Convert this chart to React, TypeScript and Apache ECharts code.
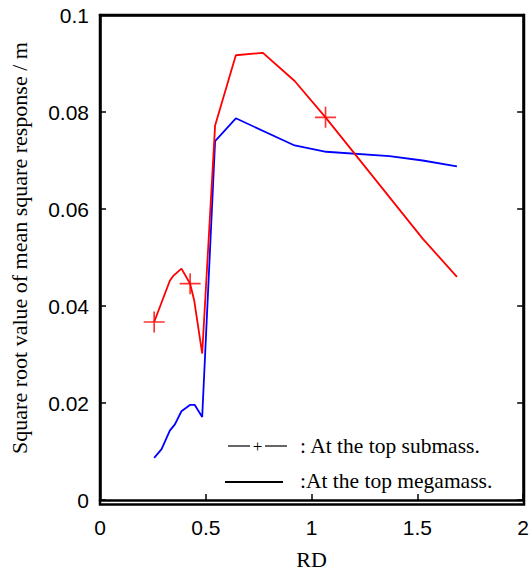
import React, { useEffect, useRef } from "react";
import * as echarts from "echarts";

const rdSub = [0.256, 0.33, 0.346, 0.385, 0.426, 0.445, 0.483, 0.544, 0.642, 0.77, 0.92, 1.066, 1.525, 1.687];
const valSub = [0.0367, 0.0452, 0.0462, 0.0477, 0.0446, 0.0412, 0.0302, 0.0772, 0.0917, 0.0922, 0.0864, 0.0789, 0.0539, 0.046];
const markerIdx = [0, 4, 11];

const rdMega = [0.256, 0.291, 0.33, 0.354, 0.385, 0.425, 0.448, 0.483, 0.544, 0.642, 0.92, 1.069, 1.368, 1.525, 1.687];
const valMega = [0.0087, 0.0105, 0.0143, 0.0156, 0.0183, 0.0196, 0.0196, 0.0171, 0.074, 0.0787, 0.0731, 0.0718, 0.0709, 0.07, 0.0688];

const xTicks = [0, 0.5, 1, 1.5, 2];
const yTicks = [0, 0.02, 0.04, 0.06, 0.08, 0.1];

const PLUS = "path://M0,9.2H9.2V0H10.8V9.2H20V10.8H10.8V20H9.2V10.8H0Z";
const SERIF = "'Liberation Serif', 'DejaVu Serif', serif";
const SANS = "'Liberation Sans', Arial, sans-serif";

const G_LEFT = 100;
const G_TOP = 15;
const G_RIGHT = 8;
const G_BOTTOM = 70.5;

export default function App() {
  const ref = useRef<HTMLDivElement>(null);
  useEffect(() => {
    const chart = echarts.init(ref.current!, null, { renderer: "svg" });
    const mkLine = () => ({ show: true, onZero: false, lineStyle: { color: "#000", width: 2.5 } });
    const mkTick = () => ({ show: true, inside: true, length: 6, lineStyle: { color: "#000", width: 1.5 } });
    chart.setOption({
      animation: false,
      grid: { left: G_LEFT, top: G_TOP, right: G_RIGHT, bottom: G_BOTTOM, containLabel: false },
      xAxis: [
        {
          type: "value", min: 0, max: 2, interval: 0.5,
          axisLine: mkLine(), axisTick: mkTick(), splitLine: { show: false },
          axisLabel: { color: "#000", fontFamily: SANS, fontSize: 21, margin: 17, formatter: (v: number) => (xTicks.includes(v) ? String(v) : "") },
          name: "RD", nameLocation: "middle", nameGap: 48,
          nameTextStyle: { color: "#000", fontFamily: SERIF, fontSize: 22 },
        },
        {
          type: "value", min: 0, max: 2, interval: 0.5, position: "top",
          axisLine: mkLine(), axisTick: { show: false }, axisLabel: { show: false }, splitLine: { show: false },
        },
      ],
      yAxis: [
        {
          type: "value", min: 0, max: 0.1, interval: 0.02,
          axisLine: mkLine(), axisTick: mkTick(), splitLine: { show: false },
          axisLabel: { color: "#000", fontFamily: SANS, fontSize: 21, margin: 11, formatter: (v: number) => (yTicks.some((t) => Math.abs(t - v) < 1e-9) ? String(+v.toFixed(2)) : "") },
        },
        {
          type: "value", min: 0, max: 0.1, interval: 0.02, position: "right",
          axisLine: mkLine(), axisTick: mkTick(), axisLabel: { show: false }, splitLine: { show: false },
        },
      ],
      graphic: [
        {
          type: "text", x: 19, y: 248, rotation: Math.PI / 2,
          style: { text: "Square root value of mean square response / m", font: `22px ${SERIF}`, fill: "#000", align: "center", verticalAlign: "middle" },
        },
        { type: "line", shape: { x1: 228, y1: 446, x2: 250, y2: 446 }, style: { stroke: "#000", lineWidth: 1.2 } },
        { type: "text", x: 257.5, y: 446, style: { text: "+", font: `17px ${SERIF}`, fill: "#000", align: "center", verticalAlign: "middle" } },
        { type: "line", shape: { x1: 265, y1: 446, x2: 287, y2: 446 }, style: { stroke: "#000", lineWidth: 1.2 } },
        { type: "text", x: 300, y: 446, style: { text: ": At the top submass.", font: `21.5px ${SERIF}`, fill: "#000", verticalAlign: "middle" } },
        { type: "line", shape: { x1: 225, y1: 482, x2: 283, y2: 482 }, style: { stroke: "#000", lineWidth: 2 } },
        { type: "text", x: 300, y: 481, style: { text: ":At the top megamass.", font: `21.5px ${SERIF}`, fill: "#000", verticalAlign: "middle" } },
        {
          type: "rect", z: 100,
          shape: { x: G_LEFT, y: G_TOP, width: 532 - G_LEFT - G_RIGHT, height: 575 - G_TOP - G_BOTTOM },
          style: { fill: "none", stroke: "#000", lineWidth: 2.5 },
        },
      ],
      series: [
        {
          type: "line", name: "megamass", data: rdMega.map((x, i) => [x, valMega[i]]),
          showSymbol: false, symbol: "none", lineStyle: { color: "#0000ff", width: 1.8 },
        },
        {
          type: "line", name: "submass", data: rdSub.map((x, i) => [x, valSub[i]]),
          showSymbol: false, symbol: "none", lineStyle: { color: "#ff0000", width: 1.8 },
        },
        {
          type: "scatter", data: markerIdx.map((i) => [rdSub[i], valSub[i]]),
          symbol: PLUS, symbolSize: 21, itemStyle: { color: "#ff0000" },
        },
      ],
    });
    return () => chart.dispose();
  }, []);
  return <div ref={ref} style={{ width: 532, height: 575, position: "absolute", left: 0, top: 0 }} />;
}
